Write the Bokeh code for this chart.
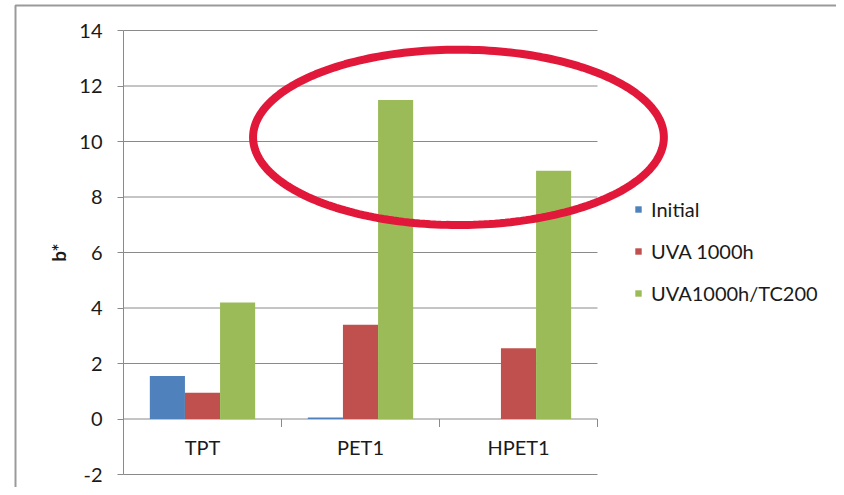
import numpy as np
from bokeh.plotting import figure
from bokeh.models import (ColumnDataSource, Range1d, FixedTicker, Legend, LegendItem, LinearAxis,
                          PolyAnnotation, BoxAnnotation, CustomJSTickFormatter)
from bokeh.core.properties import value
from bokeh.embed import file_html
from bokeh.resources import INLINE

# ---- data ----
categories = ["TPT", "PET1", "HPET1"]
initial = [1.55, 0.05, 0.0]
uva_1000h = [0.95, 3.4, 2.55]
uva_tc200 = [4.2, 11.5, 8.95]
series_names = ["Initial", "UVA 1000h", "UVA1000h/TC200"]
y_ticks = [-2, 0, 2, 4, 6, 8, 10, 12, 14]
y_label = "b*"

colors = ["#4F81BD", "#C0504D", "#9BBB59"]
FONT = "Lato"
GRID = "#8a8a8a"
TXT = "#1a1a1a"

# ---- layout (pixels) ----
W, H = 836, 487
PL, PR = 123, 597          # plot-area left/right
PT, PB = 30, 474           # plot-area top/bottom
n = len(categories)
ppu_x = (PR - PL) / n
ppu_y = (PB - PT) / (y_ticks[-1] - y_ticks[0])

x_range = Range1d(-PL / ppu_x, (W - PL) / ppu_x)
y_range = Range1d(y_ticks[0] - (H - PB) / ppu_y, y_ticks[-1] + PT / ppu_y)

p = figure(x_range=x_range, y_range=y_range, frame_width=W, frame_height=H,
           min_border=0, x_axis_location=None, y_axis_location=None,
           output_backend="svg", toolbar_location=None)
p.outline_line_color = None
p.background_fill_color = "white"
p.border_fill_color = "white"
p.grid.visible = False

xpos = [i + 0.5 for i in range(n)]
bw = 1 / 4.5
src = ColumnDataSource(dict(x=xpos, cat=categories, s0=initial, s1=uva_1000h, s2=uva_tc200,
                            lab_y=[-1.0] * n))

# horizontal gridlines over the plot area
p.segment(x0=[0] * len(y_ticks), x1=[n] * len(y_ticks), y0=y_ticks, y1=y_ticks,
          line_color=GRID, line_width=1)

renderers = []
for i, key in enumerate(["s0", "s1", "s2"]):
    xs = [x + (i - 1) * bw for x in xpos]
    src.data[f"x{i}"] = xs
    r = p.vbar(x=f"x{i}", top=key, bottom=0, width=bw, source=src,
               fill_color=colors[i], line_color=None)
    renderers.append(r)

# y axis at x = 0
yax = LinearAxis(fixed_location=0, bounds=(y_ticks[0], y_ticks[-1]))
yax.ticker = FixedTicker(ticks=y_ticks)
yax.formatter = CustomJSTickFormatter(code="return String(tick)")
yax.axis_line_color = GRID
yax.major_tick_line_color = GRID
yax.major_tick_out = 6
yax.major_tick_in = 0
yax.minor_tick_line_color = None
yax.major_label_standoff = 15
yax.major_label_text_font = FONT
yax.major_label_text_font_size = "20px"
yax.major_label_text_color = TXT
yax.axis_label = y_label
yax.axis_label_text_font = FONT
yax.axis_label_text_font_style = "bold"
yax.axis_label_text_font_size = "19px"
yax.axis_label_text_color = TXT
yax.axis_label_standoff = 6
p.add_layout(yax, "left")

# category axis drawn at y = 0
edges = list(range(1, n + 1))
p.segment(x0=edges, x1=edges, y0=[0] * n, y1=[-8 / ppu_y] * n, line_color=GRID, line_width=1)
p.text(x="x", y="lab_y", text="cat", source=src, text_align="center", text_baseline="middle",
       text_font=value(FONT), text_font_size="20px", text_color=TXT)

# legend
legend = Legend(items=[LegendItem(label=series_names[i], renderers=[renderers[i]]) for i in range(3)],
                location=(634, 182), orientation="vertical",
                glyph_width=8, glyph_height=8, label_standoff=9,
                label_text_font=FONT, label_text_font_size="20px", label_text_color=TXT,
                label_height=20, spacing=18, padding=0, margin=0,
                border_line_color=None, background_fill_alpha=0)
p.add_layout(legend, "center")

# highlight ellipse annotation
t = np.linspace(0, 2 * np.pi, 240)
ex, ey, ea, eb = 2.12, 10.15, 1.30, 3.16
p.add_layout(PolyAnnotation(xs=list(ex + ea * np.cos(t)), ys=list(ey + eb * np.sin(t)),
                            fill_color=None, fill_alpha=0, line_color="#E2183A",
                            line_alpha=1, line_width=8))

# slide frame border
p.add_layout(BoxAnnotation(left=15, right=W + 20, top=5, bottom=H + 20,
                           left_units="canvas", right_units="canvas", top_units="canvas",
                           bottom_units="canvas", fill_color=None, fill_alpha=0,
                           line_color="#9a9a9a", line_alpha=1, line_width=2))

open("out.html", "w").write(file_html(p, INLINE))
